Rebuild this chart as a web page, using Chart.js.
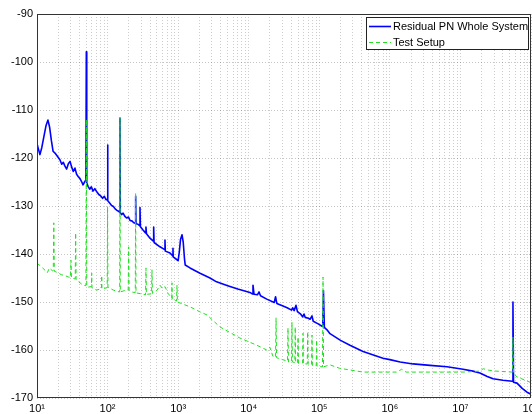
<!DOCTYPE html>
<html>
<head>
<meta charset="utf-8">
<script src="https://cdn.jsdelivr.net/npm/chart.js@4.4.1/dist/chart.umd.min.js"></script>
<style>
  html, body { margin: 0; padding: 0; background: #fff; }
  canvas { display: block; }
</style>
</head>
<body>
<canvas id="chart" width="532" height="414"></canvas>
<script>
// x axis: offset frequency (Hz), decades 10^1 .. 10^8
const decades = [1e1, 1e2, 1e3, 1e4, 1e5, 1e6, 1e7, 1e8];
const decadeLabels = ['10¹', '10²', '10³', '10⁴', '10⁵', '10⁶', '10⁷', '10⁸'];

// Residual PN Whole System
const wholeFreq = [
  10, 10.5, 11.0, 11.7, 12.5, 13.4, 14.3, 15.1, 16.0, 16.9,
  18.3, 19.8, 21.2, 22.4, 23.6, 24.9, 26.3, 27.8, 29.4, 31.0,
  32.7, 34.5, 36.4, 38.5, 40.7, 42.8, 44.9, 47.2, 49.3, 50,
  50.7, 52.9, 55.8, 58.9, 62.2, 66.0, 70.8, 75, 80, 85,
  90, 95, 98.8, 100, 101.2, 107, 114, 121, 128, 136,
  143, 148.5, 150, 151.5, 158, 166, 175, 186, 198, 208,
  221, 235, 247, 250, 253, 270, 284, 288, 292, 318,
  345, 350, 356, 399, 445, 450, 456, 553, 645, 651,
  658, 767, 840, 845, 851, 963, 1000, 1040, 1080, 1135,
  1180, 1230, 1260, 1472, 2042, 2826, 3500, 5035, 7000, 10400,
  11200, 11500, 11900, 13300, 14000, 14700, 18000, 23000, 24000, 25000,
  30000, 35000, 40500, 42000, 44000, 46800, 49000, 55000, 58000, 60700,
  63000, 70000, 74000, 78800, 82000, 95000, 108000, 112000, 114500, 118000,
  128600, 141900, 2e5, 2.72e5, 4.17e5, 8e5, 1e6, 1.4e6, 2.13e6, 3.71e6,
  6.46e6, 1.09e7, 1.5e7, 1.89e7, 2.4e7, 2.9e7, 4e7, 5.45e7, 5.55e7, 5.65e7,
  6.34e7, 7.5e7, 8.78e7, 1e8
];
const wholePN = [
  -117.0, -118.2, -119.3, -117.8, -115.6, -113.3, -112.1, -113.6, -116.4, -118.6,
  -119.1, -119.8, -120.4, -121.3, -120.9, -121.7, -122.3, -121.2, -120.7, -121.9,
  -122.8, -122.1, -123.4, -123.9, -124.3, -124.9, -125.6, -125.0, -124.6, -97.9,
  -125.2, -125.9, -126.5, -126.0, -126.9, -126.4, -127.1, -127.6, -127.9, -128.4,
  -128.0, -128.7, -128.6, -117.3, -128.9, -129.4, -129.9, -130.1, -130.6, -130.9,
  -131.1, -131.3, -111.7, -131.4, -131.8, -131.5, -132.1, -132.5, -132.3, -133.0,
  -133.1, -133.5, -133.6, -128.0, -133.7, -133.8, -134.1, -130.3, -134.3, -135.0,
  -135.6, -134.4, -135.8, -136.7, -137.3, -134.4, -137.6, -138.5, -139.1, -137.1,
  -139.4, -139.8, -140.4, -138.8, -140.6, -141.2, -141.4, -139.5, -137.0, -136.0,
  -137.5, -141.0, -142.3, -142.9, -144.0, -145.0, -145.8, -146.6, -147.3, -148.0,
  -148.3, -146.5, -148.4, -148.5, -147.9, -148.7, -149.4, -150.1, -148.9, -150.3,
  -150.8, -151.2, -151.7, -151.2, -151.8, -150.7, -152.0, -152.6, -153.1, -152.5,
  -153.2, -153.4, -153.6, -152.9, -154.0, -154.5, -155.0, -155.1, -147.6, -155.3,
  -155.8, -156.6, -158.0, -159.0, -160.3, -161.7, -162.0, -162.5, -162.9, -163.2,
  -163.5, -164.0, -164.4, -164.8, -165.5, -166.0, -166.3, -166.5, -150.0, -166.7,
  -166.9, -168.0, -168.8, -169.2
];

// Test Setup
const setupFreq = [
  10, 11.0, 12.0, 13.0, 14.0, 15.0, 16.5, 17.0, 17.3, 17.6,
  19.8, 22.0, 24.9, 28.0, 29.8, 30.3, 30.8, 34.8, 35.3, 35.8,
  40.7, 44.9, 49.3, 50, 50.7, 53, 59, 59.6, 60.2, 66,
  70.8, 82, 82.6, 83.2, 98.8, 100, 101.2, 120, 136, 148.5,
  150, 151.5, 175, 196, 199, 202, 230, 247, 250, 253,
  300, 345, 350, 355, 420, 426, 432, 500, 553, 600,
  651, 720, 812, 818, 824, 950, 963, 976, 1062, 1250,
  1472, 2000, 2565, 3917, 7500, 13000, 18000, 19900, 22000, 24000,
  24400, 24800, 30000, 35500, 36000, 36600, 40500, 41000, 41600, 45000,
  45600, 46300, 49300, 50000, 50700, 58000, 58800, 59600, 67500, 68500,
  69500, 77700, 78800, 79900, 90500, 91700, 93000, 111000, 113000, 115000,
  142000, 193000, 4.17e5, 1.27e6, 1.47e6, 1.7e6, 3.7e6, 1.09e7, 1.89e7, 2.1e7,
  2.5e7, 3.2e7, 5.45e7, 5.55e7, 5.65e7, 6.34e7, 1e8
];
const setupPN = [
  -141.9, -142.4, -142.9, -143.4, -143.9, -142.9, -143.5, -143.4, -133.5, -143.6,
  -143.9, -144.3, -144.5, -144.8, -144.9, -141.3, -145.0, -145.2, -135.6, -145.4,
  -146.0, -146.5, -146.6, -112.0, -146.7, -146.9, -146.8, -144.0, -147.0, -147.4,
  -147.5, -147.2, -144.5, -147.3, -147.0, -130.2, -146.9, -147.5, -147.8, -147.9,
  -111.7, -147.9, -147.6, -147.5, -138.5, -147.6, -148.0, -148.0, -127.3, -148.1,
  -148.3, -148.5, -142.9, -148.4, -148.3, -143.3, -148.2, -147.6, -146.5, -147.2,
  -146.8, -148.2, -149.2, -146.0, -149.5, -149.8, -146.5, -150.0, -150.2, -150.6,
  -151.0, -152.0, -152.7, -155.2, -157.5, -159.0, -160.0, -159.4, -161.3, -161.5,
  -153.3, -161.6, -162.0, -162.3, -155.4, -162.5, -162.4, -154.2, -162.5, -162.6,
  -155.2, -162.7, -162.6, -157.3, -162.8, -162.7, -156.5, -162.9, -162.9, -156.2,
  -163.0, -163.0, -156.9, -163.2, -163.3, -157.9, -163.4, -163.5, -144.8, -163.5,
  -163.1, -163.8, -164.6, -164.6, -164.0, -164.6, -164.6, -164.6, -164.4, -163.9,
  -164.2, -164.4, -164.6, -157.3, -165.0, -165.6, -166.8
];

// grid positions 1..9 x 10^n
const gridTicks = [];
decades.forEach(d => {
  for (let k = 1; k <= 9; k++) if (d * k <= 1e8) gridTicks.push(d * k);
});

Chart.defaults.font.family = '"Liberation Sans", Arial, sans-serif';
Chart.defaults.font.size = 11;
Chart.defaults.color = '#000';

// axes box + legend box inside the plot (matlab style)
const boxPlugin = {
  id: 'boxPlugin',
  afterDraw(chart) {
    const { ctx, chartArea: a } = chart;
    ctx.save();
    ctx.strokeStyle = '#333';
    ctx.lineWidth = 1;
    ctx.setLineDash([]);
    ctx.strokeRect(a.left + 0.5, a.top + 0.5, a.right - a.left - 1, a.bottom - a.top - 1);

    const lx = 366, ly = 17, lw = 162, lh = 32;
    ctx.fillStyle = '#fff';
    ctx.fillRect(lx, ly, lw, lh);
    ctx.strokeStyle = '#222';
    ctx.strokeRect(lx + 0.5, ly + 0.5, lw, lh);

    ctx.font = '11px "Liberation Sans", Arial, sans-serif';
    ctx.textBaseline = 'middle';
    ctx.fillStyle = '#000';
    chart.data.datasets.forEach((ds, i) => {
      const y = ly + 9.5 + i * 16;
      ctx.strokeStyle = ds.borderColor;
      ctx.lineWidth = ds.borderWidth;
      ctx.setLineDash(ds.borderDash || []);
      ctx.beginPath();
      ctx.moveTo(lx + 3, y);
      ctx.lineTo(lx + 25, y);
      ctx.stroke();
      ctx.fillText(ds.label, lx + 27, y);
    });
    ctx.restore();
  }
};

const ctx = document.getElementById('chart').getContext('2d');
const chart = new Chart(ctx, {
  type: 'line',
  data: {
    datasets: [
      {
        label: 'Residual PN Whole System',
        data: wholeFreq.map((f, i) => ({ x: f, y: wholePN[i] })),
        borderColor: '#0000ff',
        borderWidth: 1.6,
        order: 2
      },
      {
        label: 'Test Setup',
        data: setupFreq.map((f, i) => ({ x: f, y: setupPN[i] })),
        borderColor: '#1ee01e',
        borderWidth: 1,
        borderDash: [4, 3],
        order: 1
      }
    ]
  },
  options: {
    responsive: false,
    animation: false,
    devicePixelRatio: 1,
    layout: { padding: { top: 14, right: 1, left: 0, bottom: 0 } },
    elements: {
      point: { radius: 0 },
      line: { tension: 0, borderJoinStyle: 'round' }
    },
    plugins: { legend: { display: false }, tooltip: { enabled: false } },
    scales: {
      x: {
        type: 'logarithmic',
        min: 10,
        max: 1e8,
        afterBuildTicks: s => { s.ticks = gridTicks.map(v => ({ value: v })); },
        afterFit: s => { s.height = 16; s.paddingLeft = 0; s.paddingRight = 0; },
        grid: { color: 'rgba(0,0,0,0.2)', drawTicks: false },
        border: { display: false, dash: [1, 2] },
        ticks: {
          autoSkip: false,
          maxRotation: 0,
          padding: 4,
          callback: v => {
            const i = decades.indexOf(v);
            return i >= 0 ? decadeLabels[i] : '';
          }
        }
      },
      y: {
        min: -170,
        max: -90,
        afterFit: s => { s.width = 37; s.paddingTop = 0; s.paddingBottom = 0; },
        grid: { color: 'rgba(0,0,0,0.22)', drawTicks: false },
        border: { display: false, dash: [1, 2] },
        ticks: { stepSize: 10, padding: 4 }
      }
    }
  },
  plugins: [boxPlugin]
});
</script>
</body>
</html>
